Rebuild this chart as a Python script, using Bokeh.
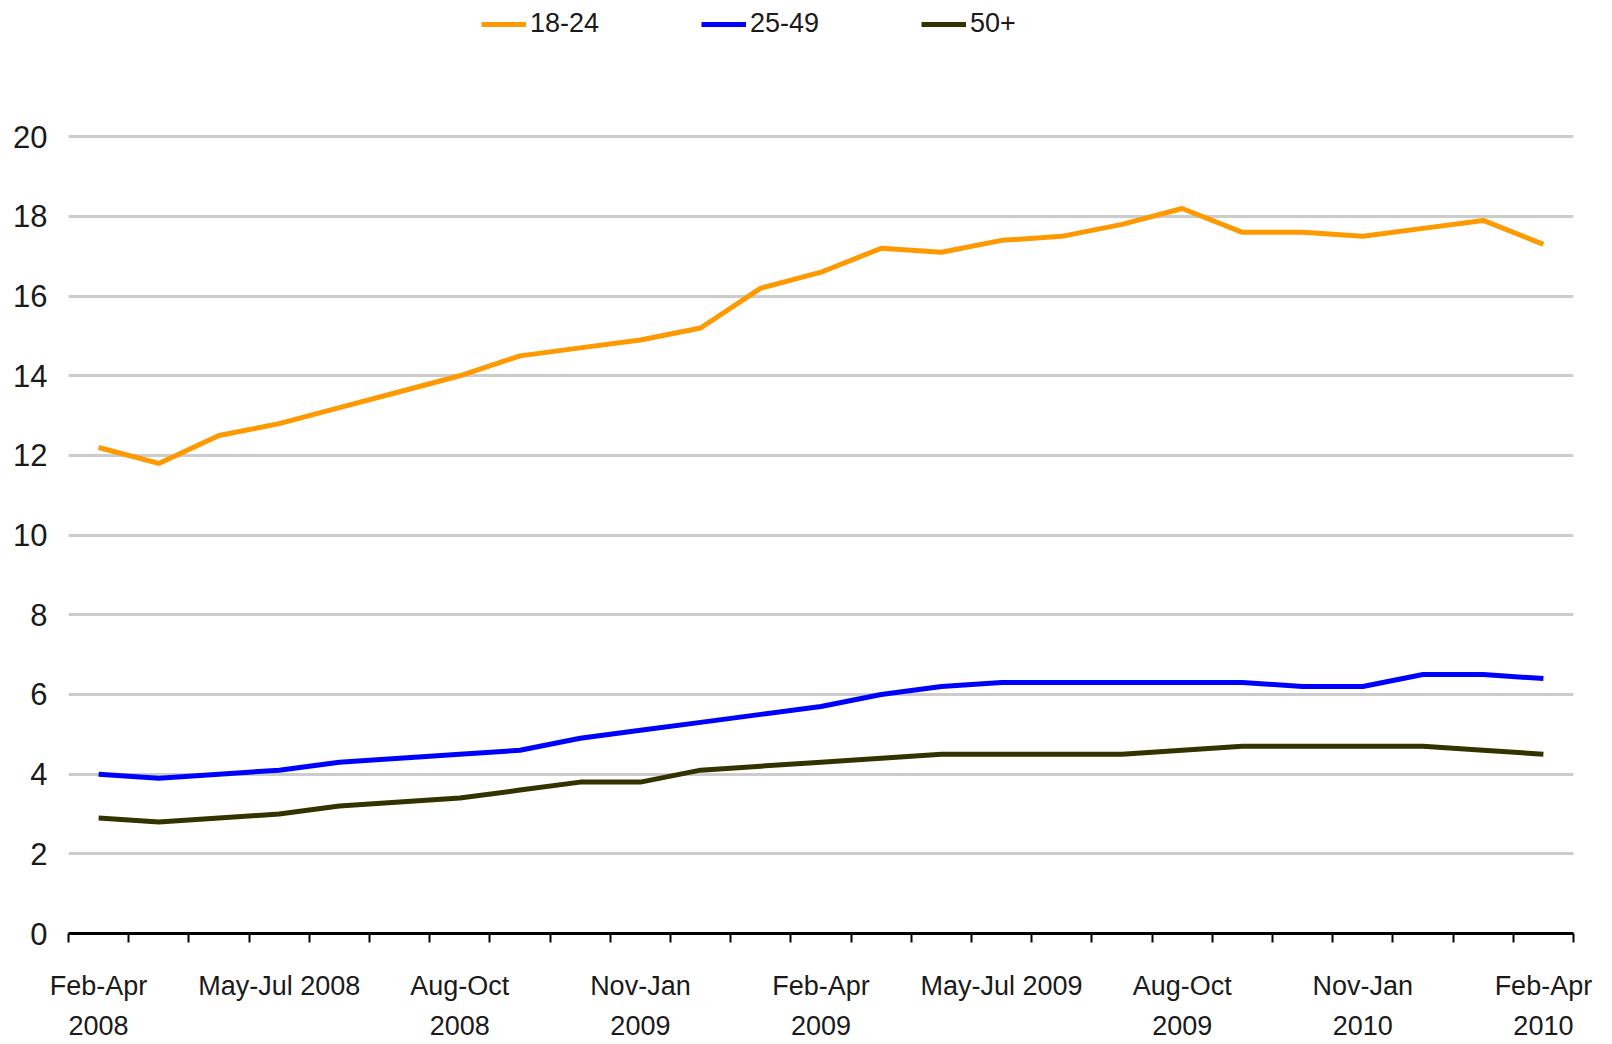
from bokeh.plotting import figure
from bokeh.models import Range1d, FixedTicker, Legend, LegendItem
from bokeh.embed import file_html
from bokeh.resources import INLINE

# ---- data ----
periods = [
    "Feb-Apr 2008", "Mar-May 2008", "Apr-Jun 2008", "May-Jul 2008", "Jun-Aug 2008",
    "Jul-Sep 2008", "Aug-Oct 2008", "Sep-Nov 2008", "Oct-Dec 2008", "Nov-Jan 2009",
    "Dec-Feb 2009", "Jan-Mar 2009", "Feb-Apr 2009", "Mar-May 2009", "Apr-Jun 2009",
    "May-Jul 2009", "Jun-Aug 2009", "Jul-Sep 2009", "Aug-Oct 2009", "Sep-Nov 2009",
    "Oct-Dec 2009", "Nov-Jan 2010", "Dec-Feb 2010", "Jan-Mar 2010", "Feb-Apr 2010",
]
age_18_24 = [12.2, 11.8, 12.5, 12.8, 13.2, 13.6, 14.0, 14.5, 14.7, 14.9, 15.2, 16.2, 16.6,
             17.2, 17.1, 17.4, 17.5, 17.8, 18.2, 17.6, 17.6, 17.5, 17.7, 17.9, 17.3]
age_25_49 = [4.0, 3.9, 4.0, 4.1, 4.3, 4.4, 4.5, 4.6, 4.9, 5.1, 5.3, 5.5, 5.7,
             6.0, 6.2, 6.3, 6.3, 6.3, 6.3, 6.3, 6.2, 6.2, 6.5, 6.5, 6.4]
age_50_plus = [2.9, 2.8, 2.9, 3.0, 3.2, 3.3, 3.4, 3.6, 3.8, 3.8, 4.1, 4.2, 4.3,
               4.4, 4.5, 4.5, 4.5, 4.5, 4.6, 4.7, 4.7, 4.7, 4.7, 4.6, 4.5]
series_names = ["18-24", "25-49", "50+"]
labeled_periods = ["Feb-Apr 2008", "May-Jul 2008", "Aug-Oct 2008", "Nov-Jan 2009",
                   "Feb-Apr 2009", "May-Jul 2009", "Aug-Oct 2009", "Nov-Jan 2010",
                   "Feb-Apr 2010"]
tick_labels = ["Feb-Apr\n2008", "May-Jul 2008", "Aug-Oct\n2008", "Nov-Jan\n2009",
               "Feb-Apr\n2009", "May-Jul 2009", "Aug-Oct\n2009", "Nov-Jan\n2010",
               "Feb-Apr\n2010"]
y_ticks = [0, 2, 4, 6, 8, 10, 12, 14, 16, 18, 20]

colors = ["#FF9900", "#0000FF", "#333300"]

x = list(range(len(periods)))

# frame extends up to the top of the figure so the legend can sit inside it
p = figure(width=1604, height=1044, output_backend="svg", toolbar_location=None,
           x_range=Range1d(-0.5, len(periods) - 0.5), y_range=Range1d(0, 23.32),
           min_border_left=68, min_border_right=31, min_border_top=4, min_border_bottom=111)
p.outline_line_color = None
p.background_fill_color = "white"

renderers = []
for vals, c in zip([age_18_24, age_25_49, age_50_plus], colors):
    r = p.line(x, vals, line_color=c, line_width=5)
    renderers.append(r)

# x axis
major_pos = [periods.index(lp) for lp in labeled_periods]
boundaries = [i - 0.5 for i in range(len(periods) + 1)]
xa = p.xaxis[0]
xa.ticker = FixedTicker(ticks=major_pos, minor_ticks=boundaries)
xa.major_label_overrides = {pos: lab for pos, lab in zip(major_pos, tick_labels)}
xa.major_tick_out = 0
xa.major_tick_in = 0
xa.minor_tick_out = 9
xa.minor_tick_in = 0
xa.minor_tick_line_color = "black"
xa.minor_tick_line_width = 2
xa.axis_line_color = "black"
xa.axis_line_width = 3
xa.major_label_text_font = "Liberation Sans"
xa.major_label_text_font_size = "27px"
xa.major_label_text_line_height = 1.35
xa.major_label_text_color = "#1a1a1a"
xa.major_label_standoff = 28
xa.major_label_orientation = "horizontal"

# y axis
ya = p.yaxis[0]
ya.ticker = FixedTicker(ticks=y_ticks)
ya.axis_line_color = None
ya.major_tick_line_color = None
ya.major_tick_out = 0
ya.major_tick_in = 0
ya.minor_tick_line_color = None
ya.major_label_text_font = "Liberation Sans"
ya.major_label_text_font_size = "31px"
ya.major_label_text_color = "#1a1a1a"
ya.major_label_standoff = 21

p.xgrid.grid_line_color = None
p.ygrid.ticker = FixedTicker(ticks=y_ticks)
p.ygrid.grid_line_color = "#CCCCCC"
p.ygrid.grid_line_width = 3

legend = Legend(
    items=[LegendItem(label=n, renderers=[r]) for n, r in zip(series_names, renderers)],
    orientation="horizontal", location=(413, 894),
    glyph_width=45, glyph_height=20, label_standoff=4, label_width=70, spacing=101,
    padding=0, margin=0, border_line_alpha=0, background_fill_alpha=0,
    label_text_font="Liberation Sans", label_text_font_size="27px",
    label_text_color="#1a1a1a",
)
p.add_layout(legend)

open("out.html", "w").write(file_html(p, INLINE))
